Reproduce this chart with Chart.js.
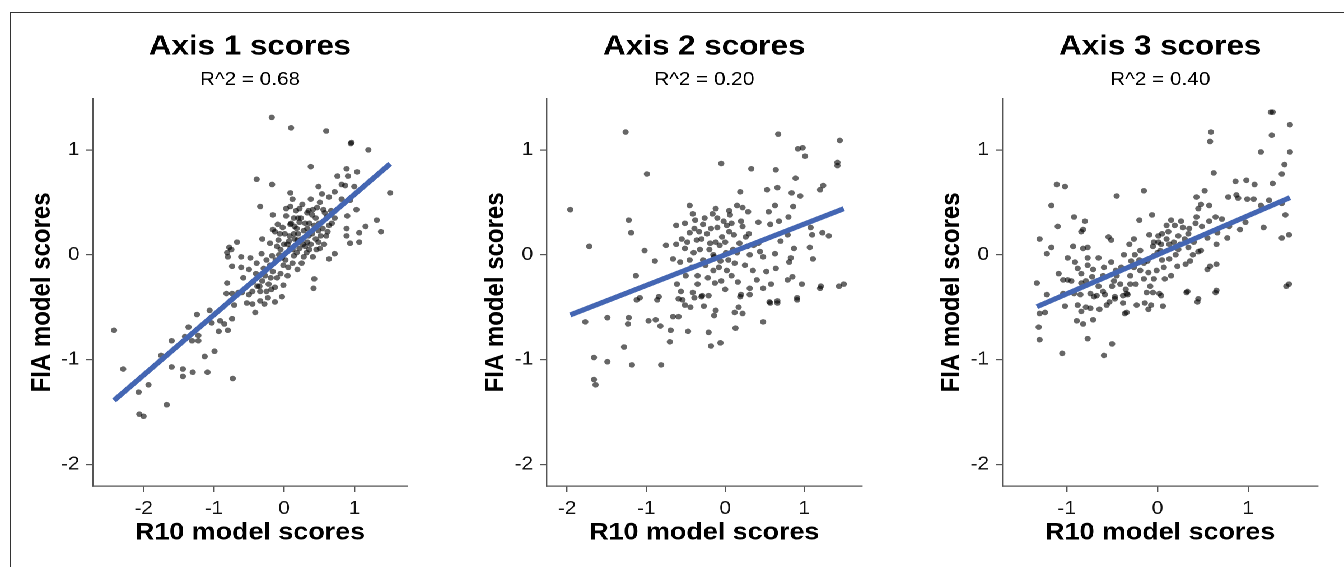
<!DOCTYPE html>
<html><head><meta charset="utf-8">
<script src="https://cdn.jsdelivr.net/npm/chart.js@4.4.1/dist/chart.umd.min.js"></script>
<style>
html,body{margin:0;padding:0;background:#fff;width:1344px;height:567px;overflow:hidden;position:relative}
#frame{position:absolute;left:10px;top:12px;right:-2px;bottom:-2px;border-top:1px solid #333;border-left:1px solid #333}
#wrap{position:absolute;left:0;top:0;width:1200px;height:567px;transform:scaleX(1.12);transform-origin:0 0}
.box{position:absolute;top:0;height:567px}
</style></head><body>
<div id="frame"></div>
<div id="wrap">
<div class="box" style="left:0px;width:405px"><canvas id="c0"></canvas></div>
<div class="box" style="left:405px;width:407px"><canvas id="c1"></canvas></div>
<div class="box" style="left:812px;width:388px"><canvas id="c2"></canvas></div>
</div>
<script>
// ---------- data ----------
const panelTitles = ['Axis 1 scores', 'Axis 2 scores', 'Axis 3 scores'];
const r2Labels = ['R^2 = 0.68', 'R^2 = 0.20', 'R^2 = 0.40'];
const xAxisTitle = 'R10 model scores';
const yAxisTitle = 'FIA model scores';

const xTicks = [[-2, -1, 0, 1], [-2, -1, 0, 1], [-1, 0, 1]];
const yTicks = [-2, -1, 0, 1];
const xLimits = [[-2.72, 1.75], [-2.26, 1.73], [-1.71, 1.77]];
const yLimits = [-2.205, 1.487];

const fitSlope = [0.574, 0.293, 0.373];
const fitIntercept = [0.0, 0.0, 0.0];

const axis1Scores = [
[-0.175,1.31],[0.10,1.21],[0.60,1.18],[0.95,1.06],[0.96,1.07],[1.20,1.00],[0.38,0.84],[1.51,0.59],[-0.39,0.72],[-0.17,0.67],
[0.89,0.82],[1.04,0.79],[0.76,0.75],[0.91,0.75],[0.82,0.67],[0.87,0.66],[1.00,0.65],[0.49,0.65],[0.72,0.60],[0.54,0.58],
[0.09,0.59],[0.12,0.53],[0.38,0.53],[0.64,0.55],[0.82,0.53],[0.94,0.52],[-0.34,0.46],[0.09,0.46],[0.22,0.44],[0.51,0.50],
[0.41,0.43],[0.56,0.43],[0.67,0.42],[1.03,0.43],[-0.16,0.38],[0.03,0.37],[0.14,0.35],[0.33,0.40],[0.45,0.35],[0.61,0.36],
[0.72,0.35],[0.90,0.37],[1.32,0.33],[-0.09,0.29],[-0.02,0.26],[0.09,0.29],[0.22,0.31],[0.36,0.30],[0.64,0.28],[0.89,0.25],
[1.16,0.27],[1.38,0.22],[-0.16,0.24],[-0.13,0.22],[0.01,0.20],[0.14,0.20],[0.28,0.23],[0.49,0.23],[1.07,0.21],[0.89,0.18],
[-0.31,0.15],[-0.20,0.11],[-0.08,0.14],[0.07,0.13],[0.19,0.14],[0.33,0.12],[0.49,0.12],[0.94,0.11],[1.07,0.12],[-0.78,0.07],
[-0.67,0.12],[-0.75,0.05],[-0.81,0.02],[-0.80,-0.02],[-0.10,0.08],[0.09,0.06],[0.22,0.06],[0.36,0.05],[0.51,0.06],[0.72,0.01],
[-0.61,-0.02],[-0.48,-0.03],[-0.32,0.01],[-0.17,-0.01],[-0.03,-0.03],[0.14,-0.01],[0.28,-0.02],[0.41,-0.02],[0.64,-0.04],[-0.74,-0.11],
[-0.61,-0.12],[-0.50,-0.14],[-0.39,-0.08],[-0.29,-0.13],[-0.16,-0.16],[-0.01,-0.10],[0.19,-0.14],[0.43,-0.23],[-0.81,-0.27],[-0.58,-0.22],
[-0.44,-0.26],[-0.31,-0.25],[-0.19,-0.22],[-0.13,-0.31],[-0.01,-0.29],
[-2.42,-0.72],[-2.29,-1.09],[-2.07,-1.31],[-2.06,-1.52],[-2.00,-1.54],[-1.93,-1.24],[-1.67,-1.43],[-1.75,-0.96],[-1.60,-0.82],[-1.60,-1.07],
[-1.44,-1.09],[-1.44,-1.16],[-1.30,-1.12],[-1.41,-0.78],[-1.36,-0.69],[-1.24,-0.57],[-1.31,-0.82],[-1.22,-0.82],[-1.22,-0.77],[-1.13,-0.97],
[-1.09,-1.12],[-1.06,-0.53],[-0.99,-0.92],[-0.93,-0.73],[-0.73,-1.18],[-0.91,-0.63],[-0.85,-0.66],[-0.80,-0.72],[-0.74,-0.61],[-0.82,-0.37],
[-0.74,-0.37],[-0.71,-0.48],[-0.53,-0.46],[-0.45,-0.47],[-0.41,-0.55],[-0.34,-0.44],[-0.28,-0.47],[-0.13,-0.45],[-0.03,-0.40],[-0.23,-0.41],
[-0.50,-0.38],[-0.34,-0.35],[-0.18,-0.33],[0.42,-0.32],[-0.65,-0.36],[-0.60,-0.36],[-1.03,-0.65],
[0.05,0.10],[0.12,0.05],[0.18,0.25],[0.25,0.15],[0.30,0.08],[0.40,0.20],[0.45,0.15],[0.55,0.25],[0.20,0.35],[0.15,0.15],
[-0.05,0.05],[0.02,-0.05],[0.30,0.30],[0.35,0.18],[0.60,0.18],[0.25,-0.08],[0.10,0.30],[-0.25,-0.05],[-0.40,-0.18],[-0.35,-0.30],
[-0.22,-0.28],[0.05,-0.20],[0.58,0.40],[0.47,0.45],
[0.20,0.20],[0.27,0.10],[0.33,0.25],[0.38,0.10],[0.43,0.28],[0.50,0.30],[0.52,0.18],[0.15,0.27],[0.08,0.18],[0.00,0.10],
[-0.07,0.00],[0.18,0.02],[0.24,0.35],[0.32,0.02],[0.40,0.38],[0.46,0.05],[0.57,0.10],[0.62,0.22],[0.68,0.30],[-0.12,-0.05],
[-0.20,-0.10],[-0.27,-0.20],[-0.10,-0.22],[-0.05,-0.18],[0.06,-0.12],[0.12,-0.08],[-0.38,-0.30],[-0.45,-0.35],[-0.25,-0.35],[0.03,0.44],
[0.17,0.42],[0.26,0.48],[-0.06,0.20],[0.35,0.42]
];

const axis2Scores = [
[-1.96,0.43],[-1.72,0.08],[-1.26,1.17],[-0.99,0.77],[-1.22,0.33],[-1.19,0.21],[-1.02,0.04],[-1.13,-0.20],[-0.89,-0.06],[-0.75,0.09],
[-0.62,0.28],[-0.51,0.30],[-0.45,0.47],[-0.41,0.39],[-0.38,0.33],[-0.66,-0.04],[-0.62,0.10],[-0.57,-0.07],[-0.51,0.06],[-0.45,0.21],
[-0.39,0.25],[-0.36,0.14],[-0.32,0.05],[-0.28,0.29],[-0.23,0.20],[-0.16,0.39],[-0.12,0.44],[-0.10,0.26],[-0.05,0.87],[-0.19,0.11],
[-0.14,-0.02],[-0.06,-0.06],[0.01,0.02],[-0.04,0.17],[0.02,0.28],[0.06,0.38],[0.11,0.19],[0.15,0.47],[0.19,0.60],[0.18,0.11],
[0.22,0.27],[0.29,0.41],[0.33,0.82],[0.26,0.17],[0.36,0.09],[0.42,0.31],[0.44,0.03],[0.53,0.62],[0.55,0.41],[0.63,0.47],
[0.64,0.81],[0.66,0.64],[0.67,1.15],[0.68,0.32],[0.70,0.13],[0.80,0.36],[0.79,0.19],[0.84,0.59],[0.86,0.46],[0.89,0.73],
[0.95,0.56],[0.92,1.01],[0.98,1.02],[1.01,0.94],[0.87,0.06],[0.83,-0.03],[0.81,-0.07],[1.08,0.26],[1.10,0.19],[1.07,0.07],
[1.11,-0.04],[1.20,0.62],[1.24,0.66],[1.23,0.21],[1.31,0.18],[1.42,0.88],[1.42,0.85],[1.45,1.09],[1.44,-0.30],[1.20,-0.32],
[0.97,-0.28],[0.91,-0.43],[0.66,-0.46],[0.57,-0.46],[0.79,-0.24],[0.85,-0.21],[0.64,-0.13],[0.58,-0.28],[0.48,-0.32],[0.52,-0.16],
[0.40,-0.24],[0.31,-0.32],[0.19,-0.40],[0.16,-0.26],[0.08,-0.20],[0.00,-0.33],[-0.13,-0.27],[-0.21,-0.39],[-0.30,-0.40],[-0.41,-0.36],
[-0.54,-0.43],[-0.61,-0.28],[-0.56,-0.35],[-0.86,-0.43],[-1.12,-0.43],[0.42,0.11],[0.48,-0.02],[0.63,0.01],[0.57,0.29],[0.31,0.00],
[0.04,-0.05],[-0.07,0.09],
[-1.77,-0.64],[-1.49,-0.60],[-1.66,-0.98],[-1.49,-1.02],[-1.66,-1.19],[-1.64,-1.24],[-1.28,-0.88],[-1.18,-1.05],[-1.22,-0.60],[-1.23,-0.66],
[-1.08,-0.41],[-0.97,-0.63],[-0.88,-0.62],[-0.82,-0.68],[-0.84,-0.40],[-0.81,-1.05],[-0.70,-0.83],[-0.69,-0.72],[-0.66,-0.59],[-0.59,-0.59],
[-0.59,-0.42],[-0.51,-0.48],[-0.47,-0.73],[-0.44,-0.50],[-0.39,-0.41],[-0.29,-0.39],[-0.27,-0.49],[-0.21,-0.74],[-0.18,-0.87],[-0.14,-0.58],
[-0.12,-0.53],[-0.06,-0.84],[0.12,-0.55],[0.17,-0.50],[0.22,-0.56],[0.13,-0.70],[0.20,-0.38],[0.31,-0.38],[0.48,-0.64],[0.56,-0.45],
[0.66,-0.44],[0.91,-0.41],[1.21,-0.30],[1.50,-0.28],
[-0.30,0.15],[-0.20,0.05],[-0.10,0.35],[0.05,0.22],[0.10,0.05],[-0.25,-0.10],[-0.15,-0.15],[0.00,0.12],[-0.35,-0.20],[0.25,-0.10],
[0.20,0.32],[-0.45,-0.05],[-0.40,0.02],[0.05,0.42],[-0.05,-0.25],[0.30,0.20],[0.35,-0.15],
[-0.48,0.12],[-0.42,-0.12],[-0.33,0.22],[-0.26,0.35],[-0.18,0.25],[-0.12,0.12],[-0.08,-0.12],[0.02,-0.15],[0.08,0.30],[0.12,-0.08],
[-0.22,-0.22],[-0.35,-0.28],[-0.50,-0.20],[-0.55,0.15],[0.15,0.02],[0.22,0.45],[-0.02,0.32],[-0.28,-0.05],[0.28,0.08],[-0.15,0.00]
];

const axis3Scores = [
[1.25,1.36],[1.27,1.36],[1.46,1.24],[1.26,1.14],[1.46,0.98],[1.14,0.98],[0.59,1.17],[0.58,1.08],[0.62,0.78],[1.40,0.86],
[1.37,0.77],[1.27,0.68],[0.86,0.70],[0.98,0.71],[1.07,0.67],[0.52,0.61],[0.43,0.55],[0.78,0.55],[0.87,0.57],[0.89,0.54],
[0.99,0.53],[1.06,0.53],[1.14,0.47],[1.23,0.52],[1.37,0.49],[1.41,0.38],[1.45,0.19],[1.37,0.16],[1.45,-0.28],[1.17,0.26],
[0.97,0.31],[0.91,0.24],[0.77,0.16],[0.79,0.27],[0.71,0.34],[0.66,0.21],[0.64,0.36],[0.65,0.10],[0.65,-0.09],[0.57,0.47],
[0.57,0.32],[0.48,0.48],[0.45,0.44],[0.43,0.36],[0.42,0.30],[0.49,0.27],[0.55,0.16],[0.48,0.04],[0.55,-0.14],[0.58,-0.11],
[0.34,0.20],[0.28,0.26],[0.23,0.18],[0.15,0.33],[0.19,0.28],[0.26,0.32],[0.10,0.28],[0.01,0.18],[-0.06,0.38],[-0.15,0.61],
[-0.45,0.56],[-0.20,0.33],[-0.09,0.19],[-0.04,0.12],[0.01,0.12],[0.04,0.10],[0.13,0.10],[0.23,0.05],[0.34,0.07],[0.39,0.00],
[0.45,0.03],[0.36,-0.06],[0.31,-0.09],[0.22,-0.11],[0.13,-0.04],[0.07,-0.12],[0.03,0.04],[-0.04,-0.01],[-0.11,-0.06],[-0.19,0.04],
[-0.26,0.15],[-0.31,0.10],[-0.37,0.00],[-0.29,-0.06],[-0.26,-0.12],[-0.19,-0.15],[-0.10,-0.17],[-0.01,-0.15],[0.08,-0.23],[-0.04,-0.23],
[-0.15,-0.23],[-0.24,-0.28],[-0.35,-0.33],[-0.33,-0.38],[-0.41,-0.28],[-0.48,-0.25],[-0.46,-0.15],[-0.51,-0.07],[-0.54,0.17],[-0.51,0.14],
[-0.59,-0.12],[-0.65,-0.03],[-0.71,-0.14],[-0.77,-0.03],[-0.77,0.07],[-0.82,0.06],[-0.84,0.22],[-0.82,0.24],[-0.80,0.32],[-0.92,0.36],
[-0.93,0.08],[-0.99,-0.03],[-0.91,-0.07],[-0.88,-0.13],[-0.84,-0.18],[-0.77,-0.10],[-0.72,-0.21],[-0.79,-0.25],[-0.84,-0.27],[-0.95,-0.25],
[-0.99,-0.24],[-1.09,-0.18],[-1.10,0.27],[-1.17,0.07],[-1.22,0.01],[-1.17,0.47],[-1.11,0.67],[-1.02,0.65],[-1.30,0.15],[-1.33,-0.27],
[-1.22,-0.38],[-1.04,-0.37],[-0.92,-0.37],[-0.58,-0.38],[-0.47,-0.40],[-0.12,-0.36],[0.02,-0.37],[0.33,-0.35],[0.45,-0.42],[0.65,-0.34],
[-1.30,-0.56],[-1.24,-0.55],[-1.31,-0.69],[-1.30,-0.81],[-1.05,-0.94],[-0.59,-0.96],[-0.50,-0.85],[-0.77,-0.80],[-0.89,-0.63],[-0.82,-0.66],
[-0.71,-0.62],[-0.84,-0.54],[-0.88,-0.48],[-1.02,-0.49],[-0.79,-0.50],[-0.74,-0.51],[-0.64,-0.52],[-0.56,-0.48],[-0.53,-0.45],[-0.47,-0.42],
[-0.38,-0.46],[-0.36,-0.56],[-0.34,-0.55],[-0.23,-0.48],[-0.14,-0.46],[-0.10,-0.52],[-0.07,-0.48],[0.06,-0.49],[0.04,-0.39],[-0.05,-0.36],
[-0.34,-0.37],[-0.38,-0.39],[-0.67,-0.39],[-0.74,-0.37],[-0.85,-0.38],[0.32,-0.36],[0.44,-0.45],[0.64,-0.36],[1.42,-0.30],[-1.04,-0.24],
[-0.30,-0.20],[-0.20,-0.05],[0.00,0.02],[0.10,0.15],[0.20,0.00],[0.30,0.15],[-0.40,-0.12],[-0.60,-0.20],[-0.65,-0.30],[0.15,-0.20],
[-0.50,-0.30],[-0.45,-0.20],[-0.30,-0.28],[-0.25,0.00],[-0.15,-0.08],[-0.05,0.08],[0.05,0.20],[0.12,0.22],[0.18,0.12],[0.25,0.10],
[0.35,0.25],[0.40,0.12],[-0.60,-0.35],[-0.70,-0.40],[0.05,-0.05],[-0.08,-0.30]
];

const panelScores = [axis1Scores, axis2Scores, axis3Scores];

// ---------- styling / layout (not data) ----------
const FONT = "'Liberation Sans', Arial, Helvetica, sans-serif";
const rightPad = [41.6, 42.4, 23.2];
const AXIS_COLOR = '#555';

panelScores.forEach((scores, i) => {
  const pts = scores.map(p => ({x: p[0], y: p[1]}));
  const xs = scores.map(p => p[0]);
  const x0 = Math.min(...xs), x1 = Math.max(...xs);
  const fit = [x0, x1].map(x => ({x: x, y: fitIntercept[i] + fitSlope[i] * x}));

  new Chart(document.getElementById('c' + i), {
    type: 'scatter',
    data: {
      datasets: [
        {type: 'line', data: fit, showLine: true, borderColor: '#4466b3', borderWidth: 5,
         borderCapStyle: 'butt', pointRadius: 0, fill: false, order: 0},
        {data: pts, backgroundColor: 'rgba(0,0,0,0.6)', borderWidth: 0, pointRadius: 2.8,
         pointHoverRadius: 2.8, order: 1}
      ]
    },
    options: {
      responsive: true, maintainAspectRatio: false, animation: false,
      devicePixelRatio: 2,
      events: [],
      layout: {padding: {left: 0, right: rightPad[i], top: 0, bottom: 0}},
      plugins: {
        legend: {display: false},
        tooltip: {enabled: false},
        title: {display: true, text: panelTitles[i], fullSize: false, color: '#000',
                font: {family: FONT, size: 28, weight: 'bold'}, padding: {top: 30, bottom: 0}},
        subtitle: {display: true, text: r2Labels[i], fullSize: false, color: '#000',
                font: {family: FONT, size: 18.5, weight: 'normal'}, padding: {top: 5, bottom: 8}}
      },
      scales: {
        x: {
          type: 'linear', position: 'bottom', min: xLimits[i][0], max: xLimits[i][1],
          afterBuildTicks: s => { s.ticks = xTicks[i].map(v => ({value: v})); },
          afterFit: s => { s.height = 81; },
          grid: {display: true, drawOnChartArea: false, drawTicks: true, tickLength: 6, color: AXIS_COLOR, lineWidth: 1.2},
          border: {display: true, color: AXIS_COLOR, width: 1.2},
          ticks: {padding: 6, color: '#111', font: {family: FONT, size: 18.5}, maxRotation: 0,
                  callback: v => String(v)},
          title: {display: true, text: xAxisTitle, color: '#000',
                  font: {family: FONT, size: 24, weight: 'bold'}, padding: {top: 0, bottom: 19.6}}
        },
        y: {
          type: 'linear', position: 'left', min: yLimits[0], max: yLimits[1],
          afterBuildTicks: s => { s.ticks = yTicks.map(v => ({value: v})); },
          afterFit: s => { s.width = 83; },
          grid: {display: true, drawOnChartArea: false, drawTicks: true, tickLength: 6, color: AXIS_COLOR, lineWidth: 1.2},
          border: {display: true, color: AXIS_COLOR, width: 1.2},
          ticks: {padding: 6, color: '#111', font: {family: FONT, size: 18.5}, callback: v => String(v)},
          title: {display: true, text: yAxisTitle, color: '#000',
                  font: {family: FONT, size: 24, weight: 'bold'}, padding: {top: 23.5, bottom: 0}}
        }
      }
    }
  });
});
</script>
</body></html>
